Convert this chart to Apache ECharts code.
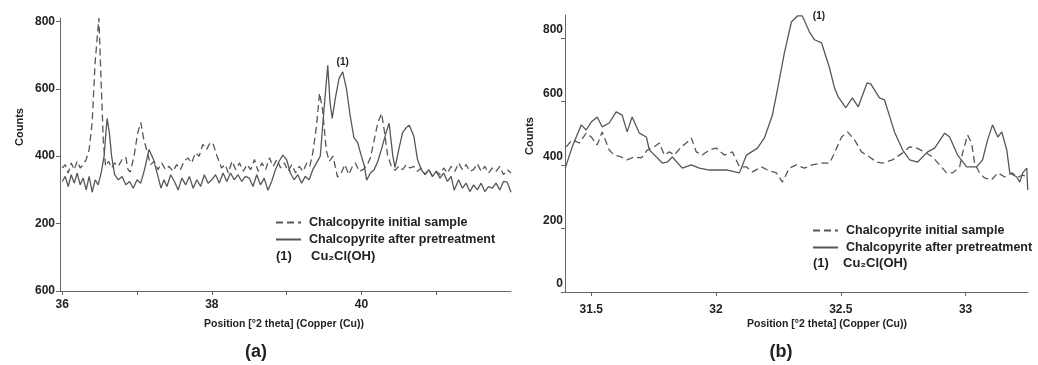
<!DOCTYPE html>
<html>
<head>
<meta charset="utf-8">
<script src="https://cdn.jsdelivr.net/npm/echarts@6/dist/echarts.min.js"></script>
<style>
  html, body { margin: 0; padding: 0; background: #fff; }
  #main { width: 1038px; height: 365px; }
</style>
</head>
<body>
<div id="main"></div>
<script>
// ---- data ----
var seriesNames = ['Chalcopyrite initial sample', 'Chalcopyrite after pretreatment'];

// panel (a): 2 theta (deg) vs counts
var initialA = [
  [36.00,365],[36.04,375],[36.08,350],[36.12,380],[36.16,360],[36.20,385],[36.24,365],[36.28,375],[36.32,390],[36.36,420],
  [36.40,500],[36.44,680],[36.49,810],[36.52,620],[36.55,440],[36.58,370],[36.62,385],[36.66,365],[36.70,380],[36.75,370],
  [36.80,390],[36.85,397],[36.88,360],[36.91,353],[36.96,400],[37.01,470],[37.05,500],[37.09,450],[37.13,418],[37.18,375],
  [37.23,385],[37.28,360],[37.33,380],[37.38,360],[37.43,370],[37.48,355],[37.53,375],[37.58,360],[37.63,385],[37.68,395],
  [37.73,380],[37.78,410],[37.83,400],[37.88,435],[37.93,420],[37.98,441],[38.02,435],[38.07,400],[38.13,365],[38.18,375],
  [38.22,350],[38.27,385],[38.32,360],[38.37,380],[38.42,355],[38.47,375],[38.52,360],[38.57,390],[38.62,355],[38.67,380],
  [38.72,360],[38.77,395],[38.82,370],[38.87,390],[38.92,365],[38.97,380],[39.02,355],[39.07,375],[39.12,350],[39.17,370],
  [39.22,355],[39.27,380],[39.31,370],[39.35,410],[39.40,490],[39.44,587],[39.48,540],[39.53,418],[39.57,385],[39.62,400],
  [39.68,338],[39.73,350],[39.78,375],[39.83,345],[39.88,370],[39.92,380],[39.97,355],[40.02,360],[40.07,370],[40.12,395],
  [40.17,447],[40.22,500],[40.27,527],[40.31,470],[40.35,403],[40.40,370],[40.45,358],[40.50,370],[40.55,360],[40.60,375],
  [40.65,365],[40.70,370],[40.75,355],[40.80,365],[40.85,345],[40.90,360],[40.95,340],[41.00,355],[41.05,345],[41.10,365],
  [41.15,350],[41.20,370],[41.25,355],[41.30,380],[41.35,360],[41.40,375],[41.45,355],[41.50,360],[41.55,378],[41.60,355],
  [41.65,370],[41.70,350],[41.75,365],[41.80,355],[41.85,370],[41.90,345],[41.95,360],[42.00,350]
];
var pretreatA = [
  [36.00,325],[36.04,340],[36.08,310],[36.12,345],[36.16,320],[36.20,350],[36.24,315],[36.28,335],[36.32,300],[36.36,340],
  [36.40,293],[36.44,330],[36.48,315],[36.52,350],[36.56,400],[36.58,460],[36.60,512],[36.63,470],[36.66,400],[36.70,345],
  [36.75,330],[36.80,340],[36.85,315],[36.90,325],[36.95,305],[37.00,330],[37.05,320],[37.10,360],[37.16,420],[37.22,390],
  [37.28,340],[37.32,305],[37.36,330],[37.40,310],[37.45,345],[37.50,325],[37.55,300],[37.60,335],[37.65,315],[37.70,340],
  [37.75,305],[37.80,330],[37.85,310],[37.90,345],[37.95,320],[38.00,330],[38.05,345],[38.10,320],[38.15,350],[38.20,325],
  [38.25,350],[38.30,330],[38.35,345],[38.40,325],[38.45,340],[38.50,335],[38.55,310],[38.60,345],[38.65,315],[38.70,335],
  [38.75,299],[38.80,325],[38.85,360],[38.90,385],[38.95,403],[39.00,390],[39.05,350],[39.10,330],[39.15,345],[39.20,320],
  [39.25,340],[39.30,330],[39.35,360],[39.40,380],[39.45,400],[39.50,540],[39.55,670],[39.58,560],[39.61,512],[39.65,570],
  [39.70,630],[39.75,650],[39.80,600],[39.85,520],[39.90,455],[39.95,440],[40.00,400],[40.04,370],[40.07,329],[40.12,350],
  [40.17,360],[40.22,385],[40.28,430],[40.33,470],[40.37,498],[40.42,400],[40.45,367],[40.50,420],[40.55,470],[40.60,485],
  [40.64,492],[40.70,460],[40.75,390],[40.80,360],[40.85,345],[40.90,360],[40.95,340],[41.00,355],[41.05,335],[41.10,350],
  [41.15,325],[41.20,340],[41.24,299],[41.30,330],[41.35,305],[41.40,320],[41.45,295],[41.50,315],[41.55,300],[41.60,320],
  [41.65,295],[41.70,310],[41.75,305],[41.80,320],[41.85,300],[41.90,325],[41.95,323],[42.00,293]
];

// panel (b)
var initialB = [
  [31.400,457],[31.424,479],[31.452,469],[31.480,500],[31.500,488],[31.524,463],[31.544,504],[31.572,447],[31.592,431],[31.620,425],
  [31.644,416],[31.672,425],[31.701,422],[31.725,447],[31.753,457],[31.773,469],[31.793,431],[31.813,441],[31.833,431],[31.861,457],
  [31.881,469],[31.901,485],[31.921,441],[31.945,431],[31.973,447],[32.001,453],[32.033,431],[32.066,441],[32.094,394],[32.122,394],
  [32.146,378],[32.182,394],[32.206,384],[32.242,375],[32.266,346],[32.294,390],[32.322,400],[32.354,390],[32.386,400],[32.423,406],
  [32.455,406],[32.475,438],[32.503,488],[32.527,504],[32.555,479],[32.583,441],[32.615,425],[32.643,409],[32.667,406],[32.707,416],
  [32.748,438],[32.776,457],[32.804,453],[32.836,441],[32.868,425],[32.896,400],[32.924,375],[32.948,375],[32.976,394],[32.988,438],
  [33.008,494],[33.024,469],[33.036,406],[33.056,375],[33.076,359],[33.104,353],[33.129,375],[33.157,362],[33.185,375],[33.209,362],
  [33.229,368],[33.249,362]
];
var pretreatB = [
  [31.396,390],[31.424,457],[31.460,526],[31.480,510],[31.500,535],[31.524,551],[31.544,520],[31.572,532],[31.600,567],[31.624,557],
  [31.644,504],[31.664,551],[31.693,500],[31.721,488],[31.733,447],[31.745,438],[31.785,406],[31.805,409],[31.825,425],[31.865,390],
  [31.901,400],[31.933,390],[31.973,384],[32.013,384],[32.046,384],[32.094,375],[32.122,431],[32.166,453],[32.194,485],[32.226,557],
  [32.246,636],[32.274,753],[32.302,850],[32.326,869],[32.346,869],[32.374,819],[32.395,794],[32.423,784],[32.455,705],[32.475,642],
  [32.490,614],[32.520,580],[32.546,611],[32.570,583],[32.605,658],[32.620,655],[32.655,611],[32.675,605],[32.715,504],[32.748,447],
  [32.776,416],[32.808,409],[32.848,441],[32.876,453],[32.916,500],[32.936,488],[32.968,431],[33.004,394],[33.044,394],[33.068,416],
  [33.088,479],[33.108,526],[33.129,488],[33.145,504],[33.165,447],[33.177,375],[33.205,362],[33.217,346],[33.229,375],[33.245,390],
  [33.249,321]
];

// peak marked (1) = Cu2Cl(OH)
var peakA = [39.75, 650];
var peakB = [32.37, 869];

// axis ticks / labels
var xTicksA = [36, 37, 38, 39, 40, 41];
var xLabelsA = [36, 38, 40];
var yTicksA = [0, 200, 400, 600, 800];
var yLabelsA = ['600', '200', '400', '600', '800'];
var xTicksB = [31.5, 32, 32.5, 33];
var yTicksB = [0, 200, 400, 600, 800];

var FONT = "'Liberation Sans', Arial, sans-serif";
var INK = '#222';
var LINE = '#575757';

var chart = echarts.init(document.getElementById('main'), null, { renderer: 'canvas' });

function xAxisOf(grid, min, max, ticks, labels, margin) {
  return {
    type: 'value', gridIndex: grid, min: min, max: max,
    splitLine: { show: false },
    axisLine: { lineStyle: { color: '#666', width: 1 } },
    axisTick: { customValues: ticks, length: 4, lineStyle: { color: '#666' } },
    axisLabel: {
      customValues: labels, margin: margin,
      color: INK, fontFamily: FONT, fontWeight: 'bold', fontSize: 12
    }
  };
}
function yAxisOf(grid, max, ticks, fmt, va, lh, margin) {
  return {
    type: 'value', gridIndex: grid, min: 0, max: max,
    splitLine: { show: false },
    axisLine: { show: true, lineStyle: { color: '#666', width: 1 } },
    axisTick: { show: true, customValues: ticks, length: 4, lineStyle: { color: '#666' } },
    axisLabel: {
      customValues: ticks, margin: margin, formatter: fmt,
      verticalAlign: va, lineHeight: lh,
      color: INK, fontFamily: FONT, fontWeight: 'bold', fontSize: 12
    }
  };
}
function lineSeries(name, xi, data, dashed, peak, labelPos) {
  var s = {
    name: name, type: 'line', xAxisIndex: xi, yAxisIndex: xi,
    data: data, showSymbol: false, symbol: 'none', animation: false,
    lineStyle: { color: LINE, width: 1.3, type: dashed ? [7, 4] : 'solid' },
    itemStyle: { color: LINE }
  };
  if (peak) {
    s.markPoint = {
      symbol: 'circle', symbolSize: 1, itemStyle: { color: 'rgba(0,0,0,0)' },
      label: {
        show: true, formatter: '(1)', position: labelPos, distance: 4,
        color: INK, fontFamily: FONT, fontWeight: 'bold', fontSize: 10
      },
      data: [{ coord: peak }]
    };
  }
  return s;
}
function label(x, y, str, size, align, rot) {
  return {
    type: 'text', x: x, y: y, rotation: rot || 0,
    style: {
      text: str, fill: INK, fontFamily: FONT, fontWeight: 'bold', fontSize: size,
      align: align || 'left', verticalAlign: 'middle'
    }
  };
}

var legendText = { color: INK, fontFamily: FONT, fontWeight: 'bold', fontSize: 12.5, padding: [0, 0, 0, 3] };
var legendBase = {
  orient: 'vertical', itemWidth: 25, itemHeight: 10, itemGap: 4,
  data: seriesNames, textStyle: legendText, selectedMode: false,
  itemStyle: { opacity: 0, borderWidth: 0 }
};

option = {
  backgroundColor: '#fff',
  animation: false,
  grid: [
    { left: 60, right: 527, top: 18, bottom: 74 },
    { left: 565, right: 10, top: 15, bottom: 73 }
  ],
  xAxis: [
    xAxisOf(0, 35.97, 42, xTicksA, xLabelsA, 8),
    xAxisOf(1, 31.395, 33.25, xTicksB, xTicksB, 12)
  ],
  yAxis: [
    yAxisOf(0, 810, yTicksA, function(v) { return yLabelsA[yTicksA.indexOf(v)]; }, 'middle', 12, 5),
    yAxisOf(1, 872, yTicksB, function(v) { return String(v); }, 'bottom', 16, 2)
  ],
  legend: [
    Object.assign({ left: 270, top: 211 }, legendBase),
    Object.assign({ left: 807, top: 219 }, legendBase)
  ],
  series: [
    lineSeries(seriesNames[0], 0, initialA, true),
    lineSeries(seriesNames[1], 0, pretreatA, false, peakA, 'top'),
    lineSeries(seriesNames[0], 1, initialB, true),
    lineSeries(seriesNames[1], 1, pretreatB, false, peakB, 'right')
  ],
  graphic: [
    label(276, 256, '(1)', 13),
    label(311, 256, 'Cu\u2082Cl(OH)', 13),
    label(813, 263, '(1)', 13),
    label(843, 263, 'Cu\u2082Cl(OH)', 13),
    label(20, 127, 'Counts', 11, 'center', Math.PI / 2),
    label(530, 136, 'Counts', 11, 'center', Math.PI / 2),
    label(284, 324, 'Position [\u00b02 theta] (Copper (Cu))', 10.5, 'center'),
    label(827, 324, 'Position [\u00b02 theta] (Copper (Cu))', 10.5, 'center'),
    label(256, 352, '(a)', 18, 'center'),
    label(781, 352, '(b)', 18, 'center')
  ]
};

chart.setOption(option);

window.addEventListener('resize', function() {
  chart.resize();
});
</script>
</body>
</html>
